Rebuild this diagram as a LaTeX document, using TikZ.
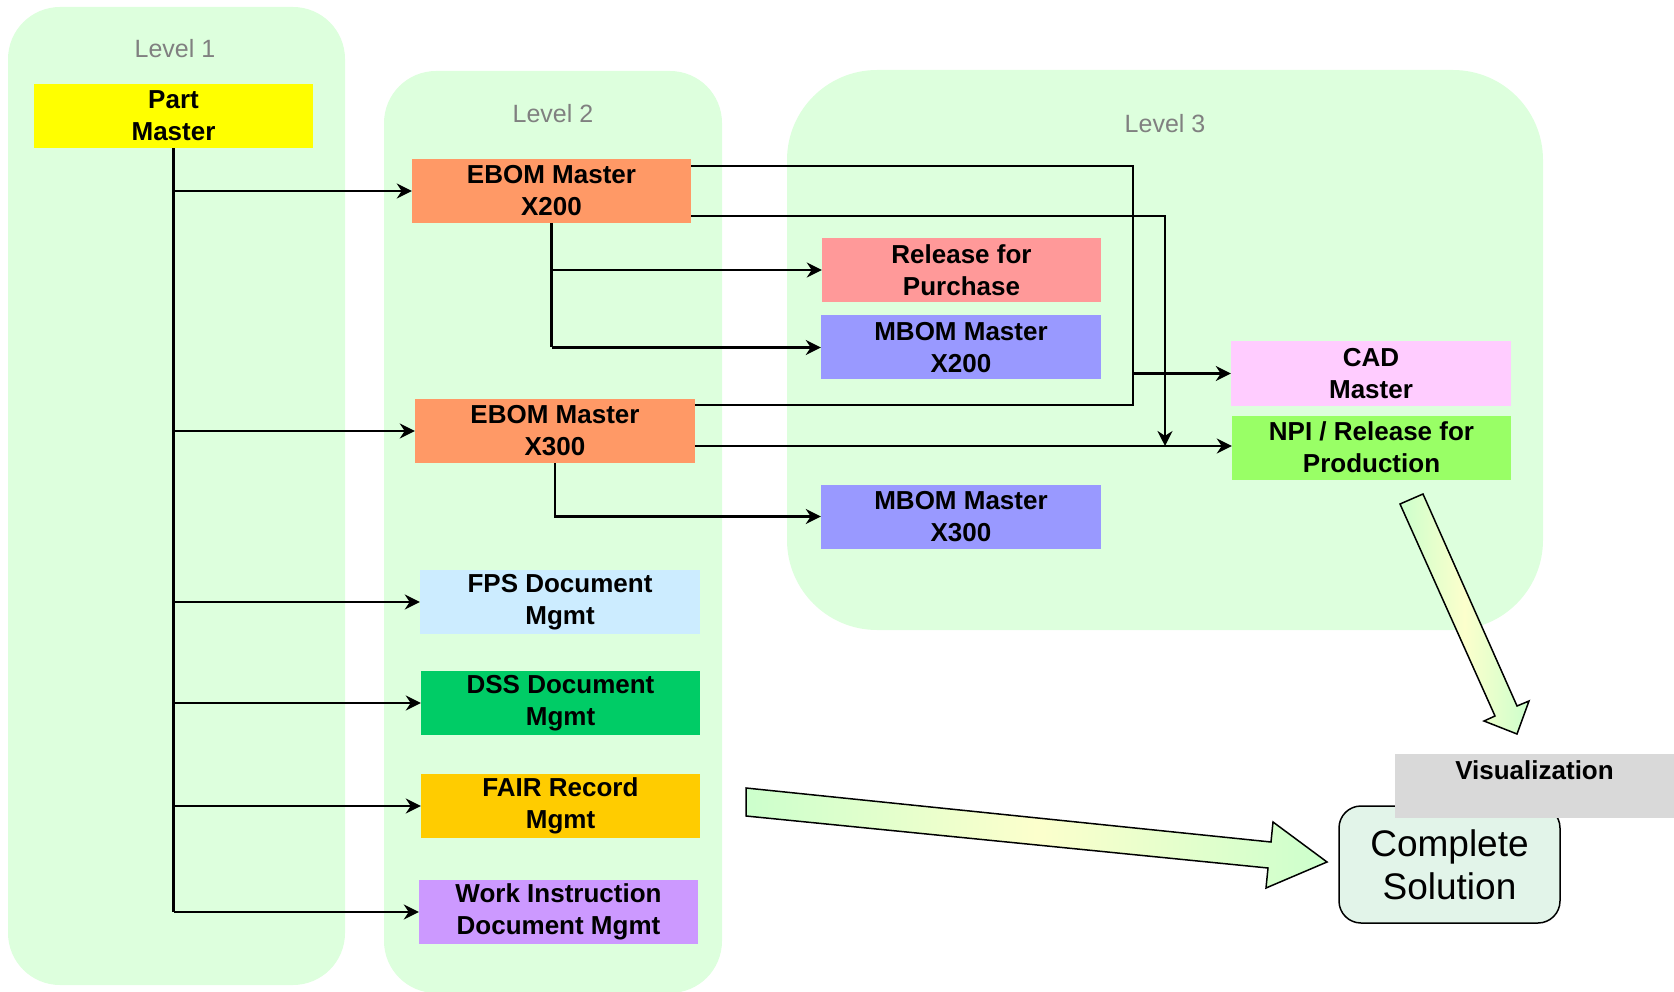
\documentclass[tikz,border=0pt]{standalone}
\usepackage{fontspec}
\setmainfont{Liberation Sans}
\usetikzlibrary{arrows.meta}
\definecolor{panel}{HTML}{DDFFDD}
\definecolor{lvlgray}{HTML}{808080}
\definecolor{cpart}{HTML}{FFFF00}
\definecolor{cebom}{HTML}{FF9966}
\definecolor{cfps}{HTML}{CCECFF}
\definecolor{cdss}{HTML}{00CC66}
\definecolor{cfair}{HTML}{FFCC00}
\definecolor{cwi}{HTML}{CC99FF}
\definecolor{crfp}{HTML}{FF9999}
\definecolor{cmbom}{HTML}{9999FF}
\definecolor{ccad}{HTML}{FFCCFF}
\definecolor{cnpi}{HTML}{99FF66}
\definecolor{cvis}{HTML}{D9D9D9}
\definecolor{ccs}{HTML}{E2F4E9}
\definecolor{bag}{HTML}{CCFFCC}
\definecolor{bay}{HTML}{FCFFCC}
\begin{document}
\begin{tikzpicture}[x=1pt,y=-1pt,
  box/.style={rectangle, inner sep=0pt, minimum width=279pt, minimum height=64pt,
    align=center, font=\fontsize{26}{32}\selectfont\bfseries},
  lvl/.style={inner sep=0pt, text=lvlgray, font=\fontsize{25}{30}\selectfont},
  conn/.style={line width=2.2pt},
  arr/.style={conn, -{Stealth[length=15pt,width=15pt]}},
  blockarrow/.style={draw=black, line width=1.5pt, line join=miter,
    left color=bag, right color=bag, middle color=bay}]
\useasboundingbox (0,0) rectangle (1674,992);
% panels
\fill[panel, rounded corners=52pt] (8,7) rectangle (345,985);
\fill[panel, rounded corners=52pt] (384,71) rectangle (722,993);
\fill[panel, rounded corners=90pt] (787,70) rectangle (1543,630);
\node[lvl] (l1) at (175,49) {Level 1};
\node[lvl] (l2) at (553,114) {Level 2};
\node[lvl] (l3) at (1165,124) {Level 3};
% boxes
\node[box, fill=cpart] (pm) at (173.5,116) {Part\\Master};
\node[box, fill=cebom] (e200) at (551.5,191) {EBOM Master\\X200};
\node[box, fill=cebom, minimum width=280pt] (e300) at (555,431) {EBOM Master\\X300};
\node[box, fill=cfps, minimum width=280pt] (fps) at (560,602) {FPS Document\\Mgmt};
\node[box, fill=cdss] (dss) at (560.5,703) {DSS Document\\Mgmt};
\node[box, fill=cfair] (fair) at (560.5,806) {FAIR Record\\Mgmt};
\node[box, fill=cwi] (wi) at (558.5,912) {Work Instruction\\Document Mgmt};
\node[box, fill=crfp] (rfp) at (961.5,270) {Release for\\Purchase};
\node[box, fill=cmbom, minimum width=280pt] (m200) at (961,347.5) {MBOM Master\\X200};
\node[box, fill=cmbom, minimum width=280pt] (m300) at (961,516.5) {MBOM Master\\X300};
\node[box, fill=ccad, minimum width=280pt] (cad) at (1371,373.5) {CAD\\Master};
\node[box, fill=cnpi] (npi) at (1371.5,447.5) {NPI / Release for\\Production};
% connectors from Part Master
\draw[conn] (pm.south) -- (pm.south |- wi.west);
\draw[arr] (pm.south |- e200.west) -- (e200.west);
\draw[arr] (pm.south |- e300.west) -- (e300.west);
\draw[arr] (pm.south |- fps.west) -- (fps.west);
\draw[arr] (pm.south |- dss.west) -- (dss.west);
\draw[arr] (pm.south |- fair.west) -- (fair.west);
\draw[arr] (pm.south |- wi.west) -- (wi.west);
% EBOM X200 to level 3
\draw[conn] (e200.south) -- (e200.south |- m200.west);
\draw[arr] (e200.south |- rfp.west) -- (rfp.west);
\draw[arr] (e200.south |- m200.west) -- (m200.west);
\draw[arr] (e300.south) |- (m300.west);
% buses to CAD and NPI
\coordinate (e200a) at ([yshift=-7pt]e200.north east);
\coordinate (e200b) at ([yshift=7pt]e200.south east);
\coordinate (e300a) at ([yshift=-6pt]e300.north east);
\coordinate (e300b) at ([yshift=-15pt]e300.east);
\coordinate (busA) at (1133,0);
\coordinate (busB) at (1165,0);
\draw[conn] (e200a) -| (busA |- e300a) -- (e300a);
\draw[arr] (busA |- cad.west) -- (cad.west);
\draw[arr] (e200b) -| (busB |- e300b);
\draw[arr] (e300b) -- (npi.west |- e300b);
% block arrows
\path[blockarrow] (1400,504) -- (1423,494) -- (1517,706) -- (1529,701) -- (1517,734)
  -- (1484,721) -- (1495,716) -- cycle;
\path[blockarrow] (746,788) -- (1271,842) -- (1273,822) -- (1327,862) -- (1266,888)
  -- (1268,868) -- (746,816) -- cycle;
% final boxes
\node[draw=black, line width=1.5pt, fill=ccs, rounded corners=22pt, inner sep=0pt,
  minimum width=221pt, minimum height=117pt, align=center,
  font=\fontsize{37}{43}\selectfont] (cs) at (1449.5,864.5) {Complete\\Solution};
\node[box, fill=cvis] (vis) at (1534.5,786) {Visualization\\\mbox{}};
\end{tikzpicture}
\end{document}
